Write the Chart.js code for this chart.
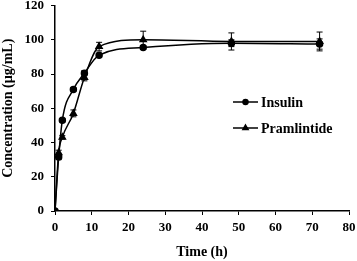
<!DOCTYPE html>
<html lang="en">
<head>
    <meta charset="UTF-8">
    <title>Concentration vs Time</title>
    <style>
        body { margin: 0; padding: 0; background: #fff; }
        #wrap { width: 357px; height: 261px; position: relative; }
    </style>
</head>
<body>
    <div id="wrap"><canvas id="concChart"></canvas></div>
    <script src="https://cdn.jsdelivr.net/npm/chart.js@4.4.0/dist/chart.umd.min.js"></script>
    <script>
        // values
        const times = [0, 1, 2, 5, 8, 12, 24, 48, 72];
        const insulin = [0, 31.5, 53, 71, 80.5, 91, 95.5, 98, 97.5];
        const insulinErr = [0, 1.5, 1, 1, 1.5, 1, 1, 2, 3];
        const pramlintide = [0, 34, 43, 57, 78, 96, 100, 99, 99];
        const pramlintideErr = [0, 1.5, 1, 2, 2, 2.5, 5, 5, 5.5];
        const xTicks = [0, 10, 20, 30, 40, 50, 60, 70, 80];
        const yTicks = [0, 20, 40, 60, 80, 100, 120];

        const serif = "'Liberation Serif', 'DejaVu Serif', serif";

        function toPoints(ys) {
            return times.map((t, i) => ({ x: t, y: ys[i] }));
        }

        // vertical error bars with caps
        const errorBars = {
            id: 'errorBars',
            afterDatasetsDraw(chart) {
                const ctx = chart.ctx;
                const yScale = chart.scales.y;
                ctx.save();
                ctx.strokeStyle = '#000';
                ctx.lineWidth = 1;
                chart.data.datasets.forEach((ds, di) => {
                    const meta = chart.getDatasetMeta(di);
                    meta.data.forEach((pt, i) => {
                        const e = ds.errors[i];
                        if (!e) return;
                        const v = ds.data[i].y;
                        const top = yScale.getPixelForValue(v + e);
                        const bot = yScale.getPixelForValue(v - e);
                        ctx.beginPath();
                        ctx.moveTo(pt.x, top); ctx.lineTo(pt.x, bot);
                        ctx.moveTo(pt.x - 3, top); ctx.lineTo(pt.x + 3, top);
                        ctx.moveTo(pt.x - 3, bot); ctx.lineTo(pt.x + 3, bot);
                        ctx.stroke();
                    });
                });
                ctx.restore();
            }
        };

        // legend drawn inside the plot, line with marker in the middle
        const innerLegend = {
            id: 'innerLegend',
            afterDraw(chart) {
                const ctx = chart.ctx;
                ctx.save();
                ctx.font = 'bold 14px ' + serif;
                ctx.textBaseline = 'middle';
                ctx.fillStyle = '#000';
                chart.data.datasets.forEach((ds, i) => {
                    const y = 102 + i * 26;
                    const x0 = 233, x1 = 258;
                    ctx.strokeStyle = '#000';
                    ctx.lineWidth = 1.5;
                    ctx.beginPath();
                    ctx.moveTo(x0, y); ctx.lineTo(x1, y);
                    ctx.stroke();
                    Chart.helpers.drawPoint(ctx, {
                        pointStyle: ds.pointStyle,
                        radius: ds.pointStyle === 'triangle' ? 3 : 2.5,
                        borderWidth: 1
                    }, (x0 + x1) / 2, y);
                    ctx.fillText(ds.label, 261, y + 1);
                });
                ctx.restore();
            }
        };

        const ctx = document.getElementById('concChart').getContext('2d');
        new Chart(ctx, {
            type: 'line',
            data: {
                datasets: [{
                    label: 'Insulin',
                    data: toPoints(insulin),
                    errors: insulinErr,
                    pointStyle: 'circle',
                    pointRadius: 3,
                    borderColor: '#000',
                    backgroundColor: '#000',
                    borderWidth: 1.5,
                    cubicInterpolationMode: 'monotone'
                }, {
                    label: 'Pramlintide',
                    data: toPoints(pramlintide),
                    errors: pramlintideErr,
                    pointStyle: 'triangle',
                    pointRadius: 3.5,
                    borderColor: '#000',
                    backgroundColor: '#000',
                    borderWidth: 1.5,
                    cubicInterpolationMode: 'monotone'
                }]
            },
            options: {
                responsive: true,
                maintainAspectRatio: false,
                animation: false,
                layout: { padding: { top: 5, right: 8, left: 0, bottom: 0 } },
                plugins: {
                    legend: { display: false },
                    tooltip: { enabled: false }
                },
                scales: {
                    x: {
                        type: 'linear',
                        min: 0,
                        max: 80,
                        afterBuildTicks: s => { s.ticks = xTicks.map(v => ({ value: v })); },
                        afterFit: s => { s.height = 50; s.paddingRight = 0; s.paddingLeft = 0; },
                        grid: { drawOnChartArea: false, drawTicks: true, tickLength: 4, color: '#000', lineWidth: 1 },
                        border: { color: '#000', width: 1.5 },
                        ticks: { color: '#000', font: { family: serif, size: 13, weight: 'bold' }, padding: 5, maxRotation: 0 },
                        title: { display: true, text: 'Time (h)', color: '#000', font: { family: serif, size: 14, weight: 'bold' }, padding: { top: 7, bottom: 0 } }
                    },
                    y: {
                        min: 0,
                        max: 120,
                        afterBuildTicks: s => { s.ticks = yTicks.map(v => ({ value: v })); },
                        afterFit: s => { s.width = 55; s.paddingTop = 0; s.paddingBottom = 0; },
                        grid: { drawOnChartArea: false, drawTicks: true, tickLength: 4, color: '#000', lineWidth: 1 },
                        border: { color: '#000', width: 1.5 },
                        ticks: { color: '#000', font: { family: serif, size: 13, weight: 'bold' }, padding: 7 },
                        title: { display: true, text: 'Concentration (µg/mL)', color: '#000', font: { family: serif, size: 14, weight: 'bold' }, padding: { top: 0, bottom: 2 } }
                    }
                }
            },
            plugins: [errorBars, innerLegend]
        });
    </script>
</body>
</html>
